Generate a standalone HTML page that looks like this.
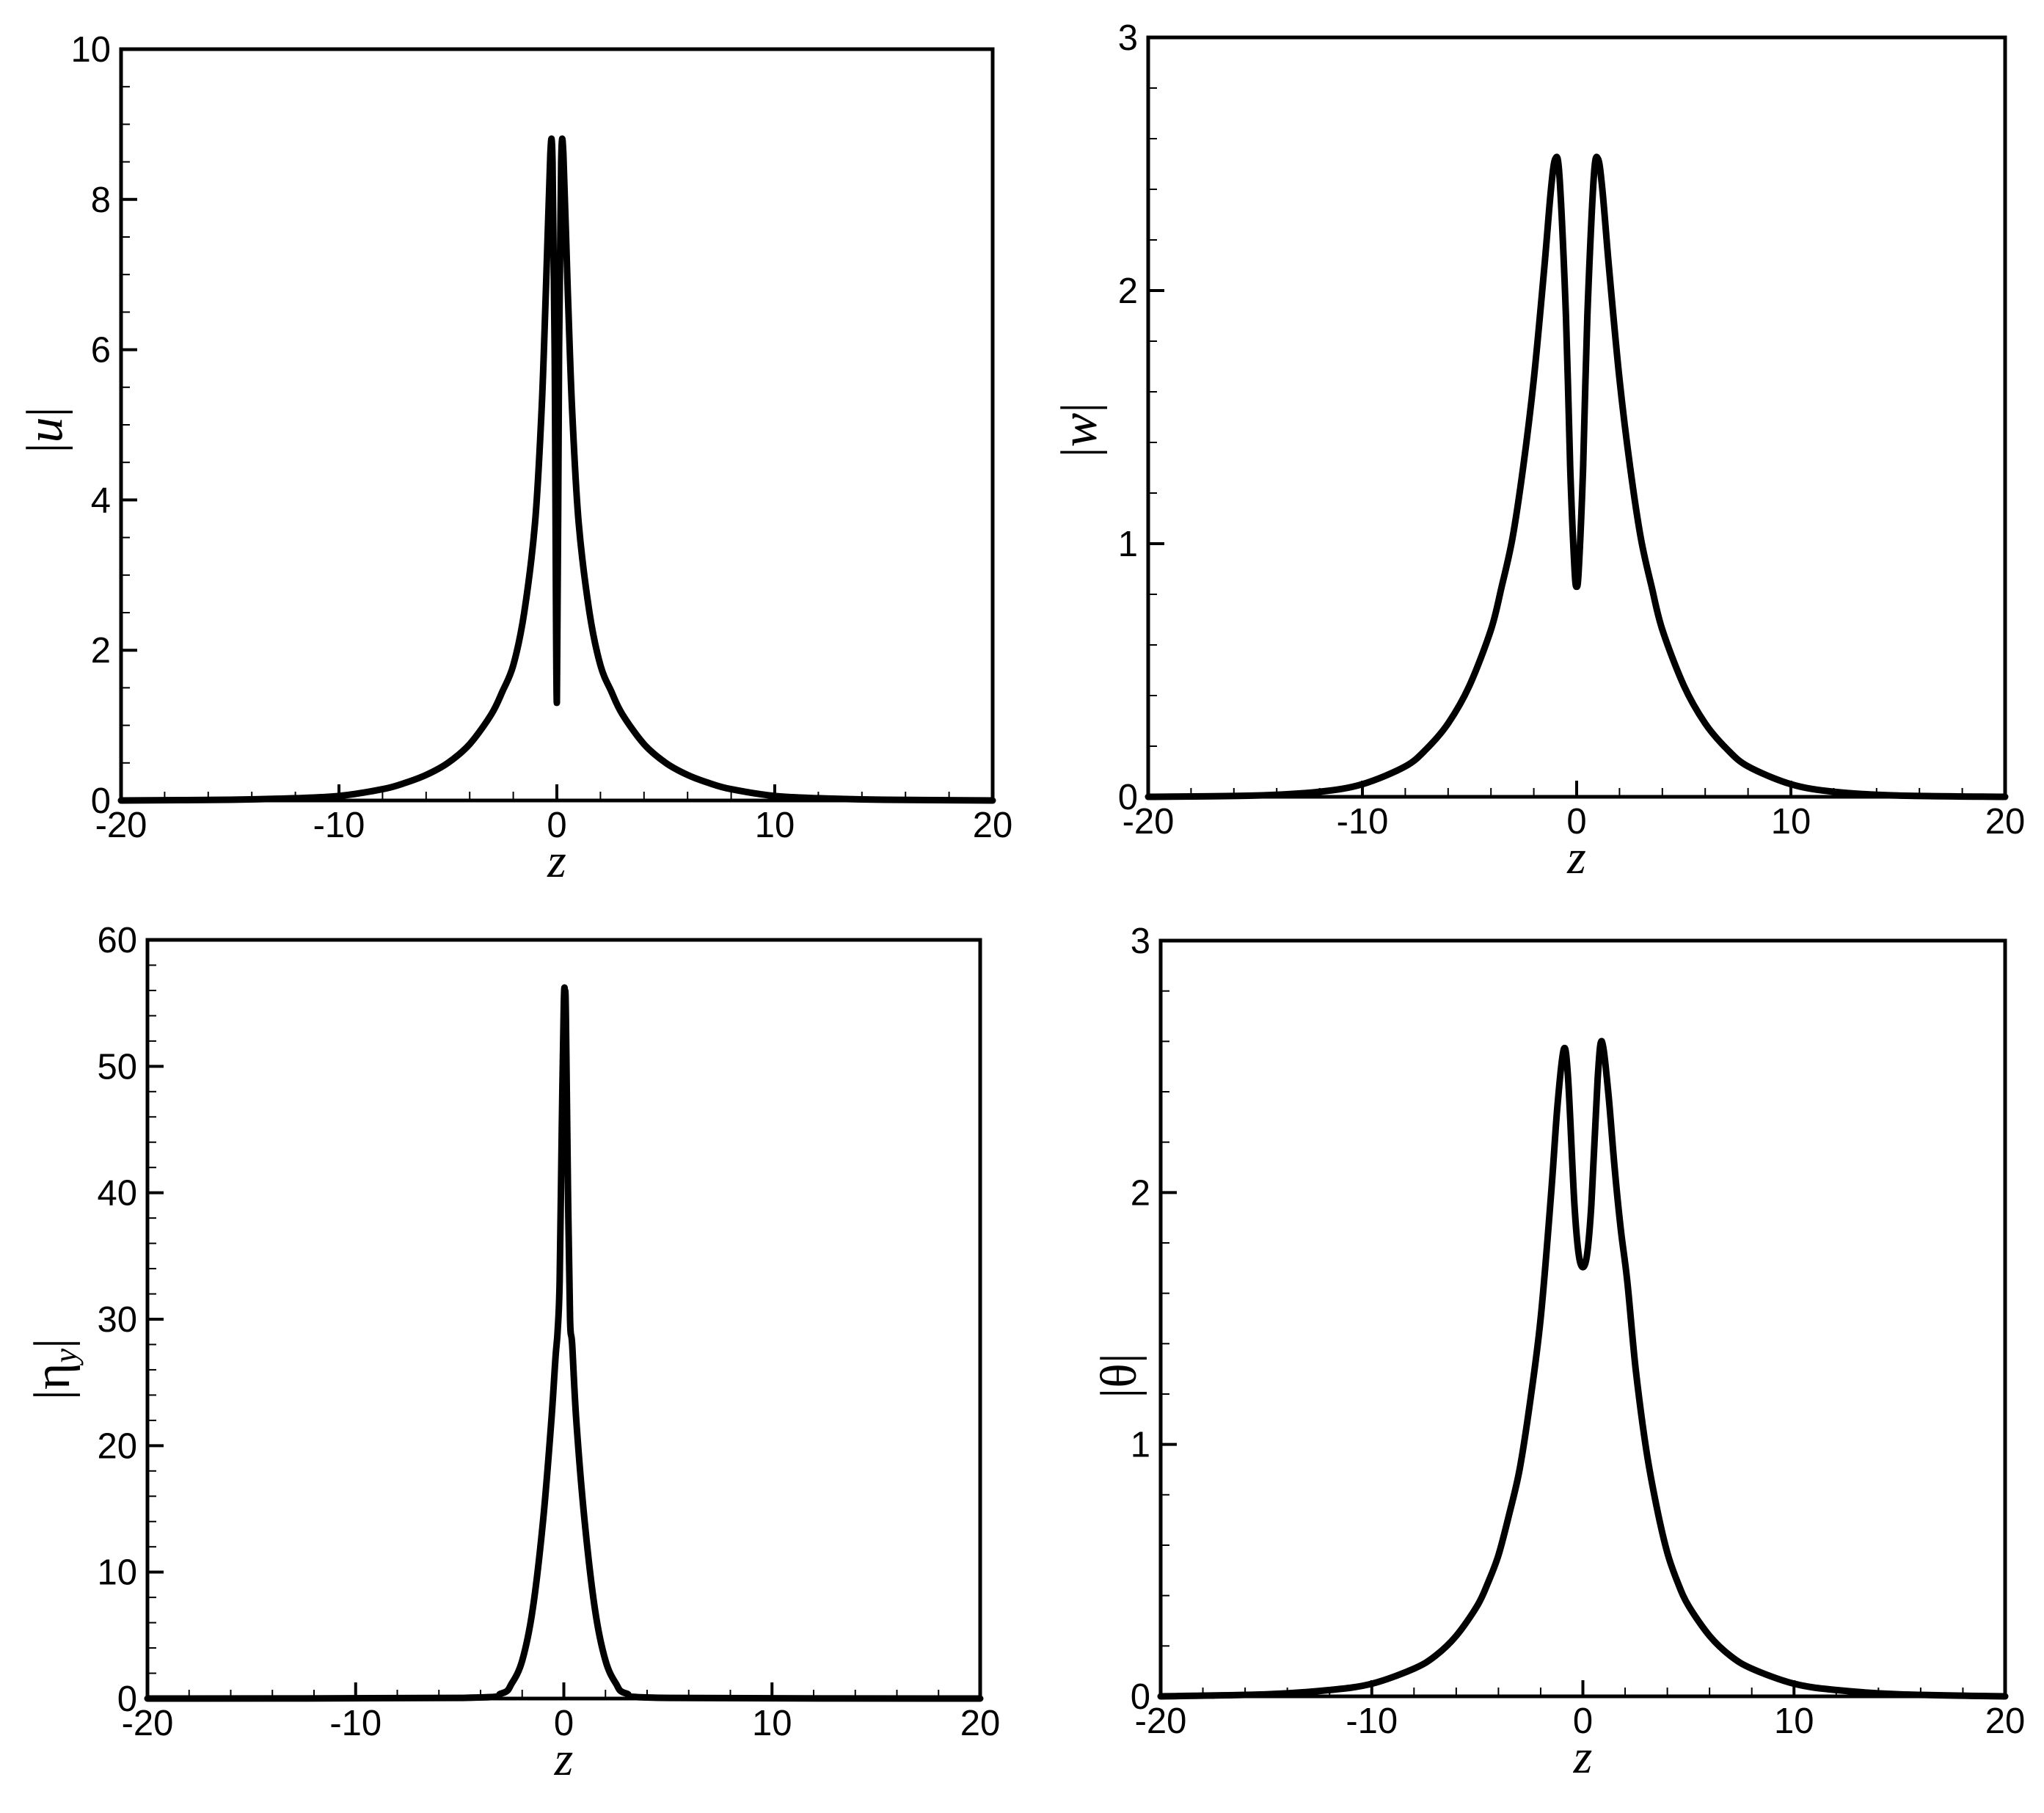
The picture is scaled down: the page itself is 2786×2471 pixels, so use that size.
<!DOCTYPE html>
<html><head><meta charset="utf-8"><style>
html,body{margin:0;padding:0;background:#fff;}
svg{display:block;}
</style></head><body>
<svg id="fig" width="2786" height="2471" viewBox="0 0 2786 2471" xmlns="http://www.w3.org/2000/svg"></svg>
<script>
// Panel 1: |u|
const uZ = [-20,-15,-12,-10,-8,-7,-6,-5,-4,-3,-2.5,-2,-1.5,-1,-0.7,-0.5,-0.3,-0.2,-0.1,0,0.1,0.2,0.3,0.5,0.7,1,1.5,2,2.5,3,4,5,6,7,8,10,12,15,20];
const uV = [0,0.01,0.03,0.06,0.15,0.23,0.34,0.5,0.75,1.15,1.45,1.8,2.5,3.7,5.2,6.8,8.6,8.5,6,1.3,6,8.5,8.6,6.8,5.2,3.7,2.5,1.8,1.45,1.15,0.75,0.5,0.34,0.23,0.15,0.06,0.03,0.01,0];
// Panel 2: |w|
const wZ = [-20,-15,-12,-10,-8,-7,-6,-5,-4,-3.5,-3,-2.5,-2,-1.5,-1.2,-1,-0.8,-0.5,-0.3,-0.1,0,0.1,0.3,0.5,0.8,1,1.2,1.5,2,2.5,3,3.5,4,5,6,7,8,10,12,15,20];
const wV = [0,0.005,0.02,0.05,0.12,0.19,0.29,0.44,0.66,0.83,1.02,1.3,1.65,2.1,2.4,2.52,2.45,1.9,1.3,0.9,0.83,0.9,1.3,1.9,2.45,2.52,2.4,2.1,1.65,1.3,1.02,0.83,0.66,0.44,0.29,0.19,0.12,0.05,0.02,0.005,0];
// Panel 3: |eta_y|
const eZ = [-20,-5,-3,-2.5,-2,-1.5,-1,-0.6,-0.4,-0.3,-0.2,-0.1,0,0.05,0.1,0.2,0.3,0.4,0.6,1,1.5,2,2.5,3,5,20];
const eV = [0,0.05,0.4,1.2,3,7,14,22,27,29,33,45,55,56,54,40,30,28,22,14,7,3,1.2,0.4,0.05,0];
// Panel 4: |theta|
const tZ = [-20,-15,-12,-10,-8,-7,-6,-5,-4.5,-4,-3.5,-3,-2.5,-2,-1.5,-1.2,-0.9,-0.7,-0.4,-0.15,0.15,0.4,0.7,0.9,1.2,1.5,1.8,2.1,2.5,3,3.5,4,4.5,5,6,7,8,10,12,15,20];
const tV = [0,0.008,0.025,0.05,0.11,0.16,0.24,0.36,0.45,0.56,0.72,0.9,1.17,1.5,2.0,2.35,2.57,2.45,1.95,1.73,1.73,1.95,2.45,2.6,2.4,2.1,1.85,1.65,1.3,0.98,0.75,0.57,0.45,0.36,0.24,0.16,0.11,0.05,0.025,0.008,0];
const xTicks = [-20,-10,0,10,20];
const uTicks = [0,2,4,6,8,10];
const wTicks = [0,1,2,3];
const eTicks = [0,10,20,30,40,50,60];
const tTicks = [0,1,2,3];

const NS = "http://www.w3.org/2000/svg";
const svg = document.getElementById('fig');
function mk(tag, attrs, parent){
  const e = document.createElementNS(NS, tag);
  for (const k in attrs) e.setAttribute(k, attrs[k]);
  (parent||svg).appendChild(e);
  return e;
}
function smoothPath(pts){
  let d = "M" + pts[0][0].toFixed(1) + "," + pts[0][1].toFixed(1);
  for (let i=0;i<pts.length-1;i++){
    const p0 = pts[Math.max(0,i-1)], p1 = pts[i], p2 = pts[i+1], p3 = pts[Math.min(pts.length-1,i+2)];
    const t = 0.16;
    const c1x = p1[0] + (p2[0]-p0[0])*t, c1y = p1[1] + (p2[1]-p0[1])*t;
    const c2x = p2[0] - (p3[0]-p1[0])*t, c2y = p2[1] - (p3[1]-p1[1])*t;
    d += " C"+c1x.toFixed(1)+","+c1y.toFixed(1)+" "+c2x.toFixed(1)+","+c2y.toFixed(1)+" "+p2[0].toFixed(1)+","+p2[1].toFixed(1);
  }
  return d;
}
function panel(cfg){
  const g = mk('g', {});
  
  
  const X = z => cfg.x0 + (z - (-20)) / 40 * (cfg.x1 - cfg.x0);
  const Y = v => cfg.y1 - (v - 0) / cfg.ymax * (cfg.y1 - cfg.y0);
  for (let z=-20; z<=20; z+=2){
    const major = (z % 10 === 0);
    const t = mk('line', {x1:X(z), x2:X(z), y1:cfg.y1, y2:cfg.y1-(major?22:12), stroke:'#000', 'stroke-width':major?4:2}, g);
    
    
  }
  for (let i=0; i*cfg.yminor <= cfg.ymax+1e-9; i++){
    const v = i*cfg.yminor;
    const major = Math.abs(v/cfg.ymajor - Math.round(v/cfg.ymajor)) < 1e-6;
    const t = mk('line', {x1:cfg.x0, x2:cfg.x0+(major?22:12), y1:Y(v), y2:Y(v), stroke:'#000', 'stroke-width':major?4:2}, g);
    
    
  }
  const pts = cfg.zs.map((z,i)=>[X(z), Y(cfg.vs[i])]);
  const c = mk('path', {d:smoothPath(pts), fill:'none', stroke:'#000', 'stroke-width':9, 'stroke-linejoin':'round', 'stroke-linecap':'round'}, g);
  
  
  const f = mk('rect', {x:cfg.x0, y:cfg.y0, width:cfg.x1-cfg.x0, height:cfg.y1-cfg.y0, fill:'none', stroke:'#000', 'stroke-width':5}, g);
  
  
  xTicks.forEach(z=>{
    const t = mk('text', {x:X(z), y:cfg.y1+50, 'text-anchor':'middle', 'font-family':'Liberation Sans, sans-serif', 'font-size':49}, g);
    t.textContent = String(z);
    
    
  });
  cfg.yt.forEach(v=>{
    const t = mk('text', {x:cfg.x0-14, y:Y(v)+17, 'text-anchor':'end', 'font-family':'Liberation Sans, sans-serif', 'font-size':49}, g);
    t.textContent = String(v);
    
    
  });
  const zt = mk('text', {x:(cfg.x0+cfg.x1)/2, y:cfg.y1+104, 'text-anchor':'middle', 'font-family':'Liberation Serif, serif', 'font-style':'italic', 'font-size':66}, g);
  zt.textContent = 'z';
  
  
  const yt = mk('text', {x:0, y:0, 'text-anchor':'middle', 'font-family':'Liberation Serif, serif', 'font-size':70, transform:'translate('+cfg.tx+','+cfg.ty+') rotate(-90)'}, g);
  
  
  yt.innerHTML = cfg.title;
}
panel({name:'u-panel', x0:165, x1:1353, y0:67, y1:1091, ymax:10, ymajor:2, yminor:0.5, yt:uTicks, zs:uZ, vs:uV, tx:84, ty:586, title:'|<tspan font-style="italic">u</tspan>|'});
panel({name:'w-panel', x0:1565, x1:2733, y0:51, y1:1086, ymax:3, ymajor:1, yminor:0.2, yt:wTicks, zs:wZ, vs:wV, tx:1494, ty:586, title:'|<tspan font-style="italic">w</tspan>|'});
panel({name:'eta-panel', x0:201, x1:1336, y0:1281, y1:2315, ymax:60, ymajor:10, yminor:2, yt:eTicks, zs:eZ, vs:eV, tx:94, ty:1866, title:'|η<tspan font-size="44" dy="10" font-style="italic">y</tspan><tspan dy="-10">|</tspan>'});
panel({name:'theta-panel', x0:1582, x1:2733, y0:1282, y1:2312, ymax:3, ymajor:1, yminor:0.2, yt:tTicks, zs:tZ, vs:tV, tx:1548, ty:1875, title:'|θ|'});
</script>
</body></html>
